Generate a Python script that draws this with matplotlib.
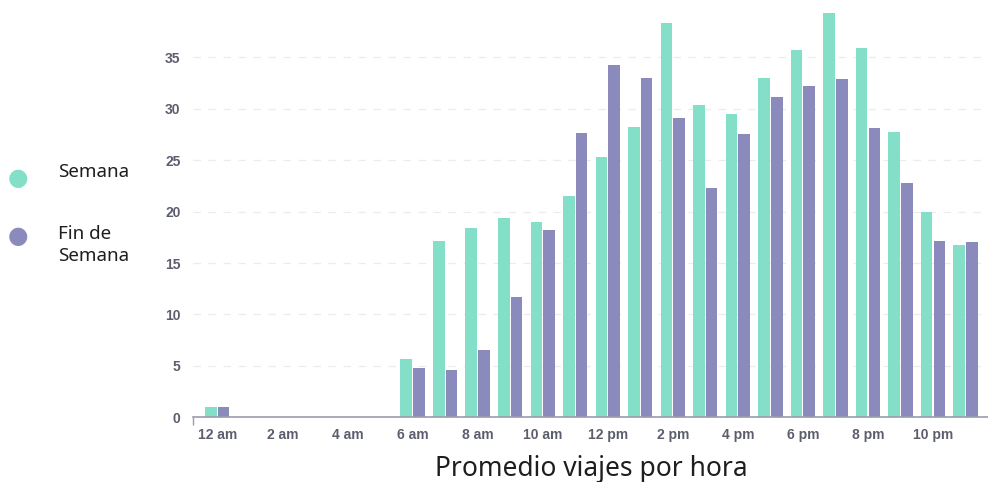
import numpy as np
import matplotlib.pyplot as plt
from matplotlib.ticker import FixedLocator

# promedio de viajes por hora del dia
horas = np.arange(24)
semana = [1.0, 0, 0, 0, 0, 0, 5.7, 17.1, 18.4, 19.4, 19.0, 21.5,
          25.3, 28.2, 38.3, 30.4, 29.5, 33.0, 35.7, 39.3, 35.9, 27.7, 20.0, 16.8]
fin_semana = [1.0, 0, 0, 0, 0, 0, 4.8, 4.6, 6.5, 11.7, 18.2, 27.6,
              34.3, 33.0, 29.1, 22.3, 27.5, 31.1, 32.2, 32.9, 28.1, 22.8, 17.1, 17.0]
etiquetas_x = ['12 am', '2 am', '4 am', '6 am', '8 am', '10 am',
               '12 pm', '2 pm', '4 pm', '6 pm', '8 pm', '10 pm']
ticks_y = [0, 5, 10, 15, 20, 25, 30, 35]

verde = '#84dfc8'
morado = '#8b8abd'
gris = '#5c5e6e'

fig = plt.figure(figsize=(9.88, 4.82), dpi=100)
ax = fig.add_axes([0.1953, 0.1342, 0.8067, 0.845])

ancho = 0.355
ax.bar(horas - 0.195, semana, width=ancho, color=verde, linewidth=0, zorder=3)
ax.bar(horas + 0.195, fin_semana, width=ancho, color=morado, linewidth=0, zorder=3)

ax.set_xlim(-0.75, 23.75)
ax.set_ylim(0, 39.6)

ax.set_xticks(horas[::2])
ax.set_xticklabels(etiquetas_x)
ax.set_yticks(ticks_y)
ax.xaxis.set_minor_locator(FixedLocator([-0.75]))
ax.tick_params(axis='x', which='major', length=0, pad=8)
ax.tick_params(axis='x', which='minor', length=6, width=1, color='#9a9cae')
ax.tick_params(axis='y', length=0, pad=9)
for lab in ax.get_xticklabels() + ax.get_yticklabels():
    lab.set_fontfamily('Liberation Sans')
    lab.set_fontweight('bold')
    lab.set_fontsize(10)
    lab.set_color(gris)

ax.grid(axis='y', linestyle=(0, (6, 6)), color='#ececec', linewidth=0.9, zorder=0)
for s in ['top', 'right', 'left']:
    ax.spines[s].set_visible(False)
ax.spines['bottom'].set_color('#9a9cae')
ax.spines['bottom'].set_linewidth(1.2)
ax.spines['bottom'].set_zorder(4)

ax.set_xlabel('Promedio viajes por hora', fontsize=19, family='Noto Sans', color='#1e1e1e', labelpad=9)

# leyenda manual a la izquierda
fig.text(18 / 988, 1 - 178 / 482, '\u25CF', fontsize=17, color=verde, ha='center', va='center')
fig.text(18 / 988, 1 - 236 / 482, '\u25CF', fontsize=17, color=morado, ha='center', va='center')
fig.text(58 / 988, 1 - 172 / 482, 'Semana', fontsize=13.5, family='Noto Sans', color='#1e1e1e', va='center')
fig.text(58 / 988, 1 - 245 / 482, 'Fin de\nSemana', fontsize=13.5, family='Noto Sans', color='#1e1e1e',
         va='center', linespacing=1.35)

fig.savefig('out.png', dpi=100)
